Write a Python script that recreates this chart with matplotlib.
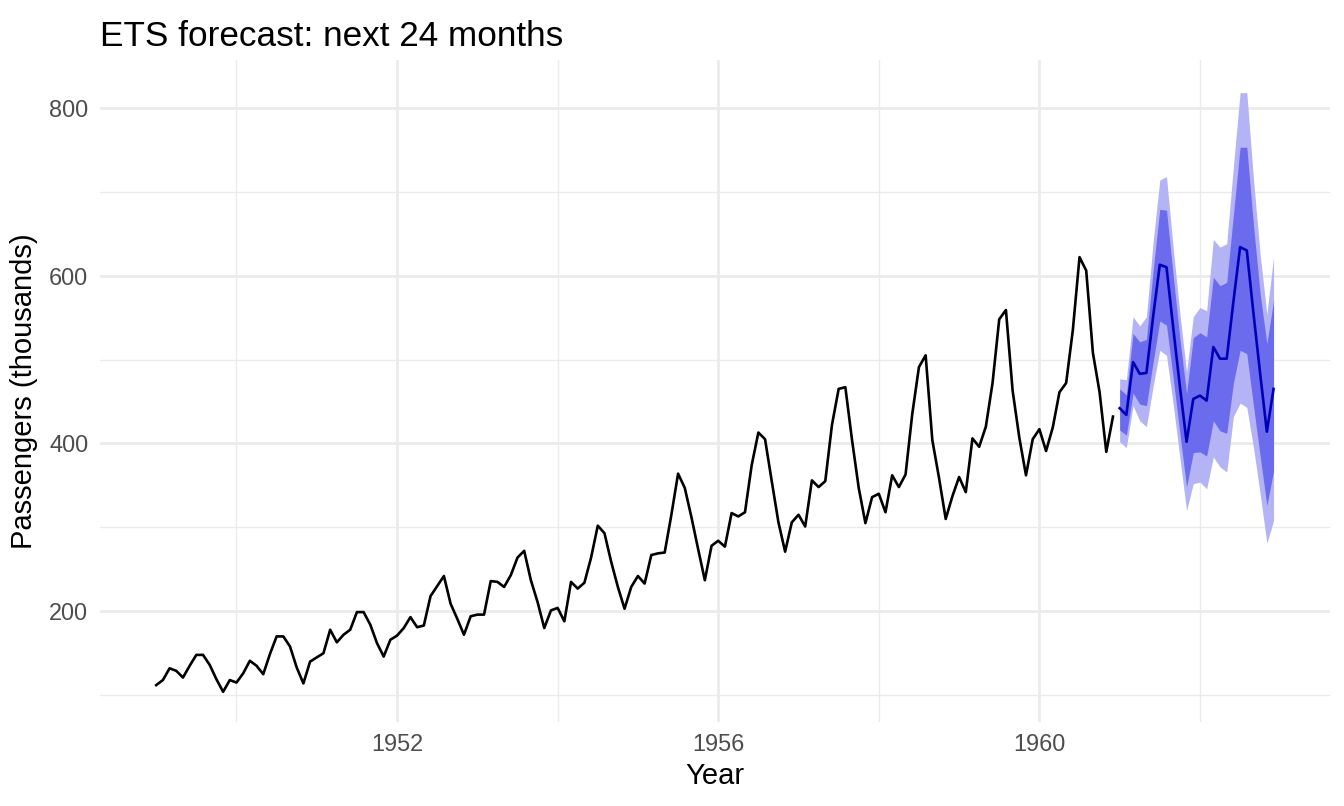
import numpy as np
import matplotlib
matplotlib.use('Agg')
import matplotlib.pyplot as plt
from matplotlib.ticker import MultipleLocator

plt.rcParams['font.family'] = ['Liberation Sans', 'DejaVu Sans']

# monthly airline passengers, 1949-1960 (thousands)
passengers = [
    112, 118, 132, 129, 121, 135, 148, 148, 136, 119, 104, 118,
    115, 126, 141, 135, 125, 149, 170, 170, 158, 133, 114, 140,
    145, 150, 178, 163, 172, 178, 199, 199, 184, 162, 146, 166,
    171, 180, 193, 181, 183, 218, 230, 242, 209, 191, 172, 194,
    196, 196, 236, 235, 229, 243, 264, 272, 237, 211, 180, 201,
    204, 188, 235, 227, 234, 264, 302, 293, 259, 229, 203, 229,
    242, 233, 267, 269, 270, 315, 364, 347, 312, 274, 237, 278,
    284, 277, 317, 313, 318, 374, 413, 405, 355, 306, 271, 306,
    315, 301, 356, 348, 355, 422, 465, 467, 404, 347, 305, 336,
    340, 318, 362, 348, 363, 435, 491, 505, 404, 359, 310, 337,
    360, 342, 406, 396, 420, 472, 548, 559, 463, 407, 362, 405,
    417, 391, 419, 461, 472, 535, 622, 606, 508, 461, 390, 432,
]

# ETS forecast, Jan 1961 - Dec 1962
fc_mean = [442, 434, 497, 483, 484, 551, 613, 610, 538, 468, 402, 453,
           457, 451, 515, 501, 501, 569, 634, 630, 555, 483, 414, 465]
lo80 = [416, 410, 460, 447, 445, 497, 546, 541, 478, 412, 348, 389,
        390, 385, 427, 415, 412, 472, 511, 507, 445, 385, 326, 367]
hi80 = [465, 458, 531, 521, 524, 606, 679, 678, 600, 525, 459, 526,
        532, 527, 598, 588, 592, 672, 753, 753, 660, 578, 519, 570]
lo95 = [402, 395, 445, 427, 420, 468, 511, 505, 447, 383, 320, 352,
        354, 346, 384, 372, 366, 432, 448, 443, 395, 340, 281, 308]
hi95 = [477, 476, 551, 540, 551, 640, 714, 718, 633, 555, 485, 551,
        562, 558, 643, 634, 638, 730, 818, 818, 715, 625, 554, 622]

hist_x = 1949 + np.arange(len(passengers)) / 12
fc_x = 1961 + np.arange(len(fc_mean)) / 12

fig = plt.figure(figsize=(13.44, 8.06), dpi=100)
ax = fig.add_axes([0.0744, 0.1042, 0.9152, 0.8214])

ax.fill_between(fc_x, lo95, hi95, color='#B3B3F5', linewidth=0)
ax.fill_between(fc_x, lo80, hi80, color='#6B6BEE', linewidth=0)
ax.plot(hist_x, passengers, color='black', lw=1.9)
ax.plot(fc_x, fc_mean, color='#0000B8', lw=1.9)

ax.set_xlim(1948.3, 1963.62)
ax.set_ylim(68, 857)

ax.xaxis.set_minor_locator(MultipleLocator(2))
ax.yaxis.set_major_locator(MultipleLocator(200))
ax.yaxis.set_minor_locator(MultipleLocator(100))
ax.set_xticks([1952, 1956, 1960])
ax.set_xticklabels(['1952', '1956', '1960'])
ax.set_yticks([200, 400, 600, 800])

ax.grid(which='major', color='#EBEBEB', lw=2.0)
ax.grid(which='minor', color='#EBEBEB', lw=1.0)
ax.set_axisbelow(True)
for s in ax.spines.values():
    s.set_visible(False)
ax.tick_params(which='both', length=0, labelsize=16.9, labelcolor='#4D4D4D')
ax.tick_params(axis='x', pad=8)
ax.tick_params(axis='y', pad=8.5)

ax.set_xlabel('Year', fontsize=21, labelpad=4)
ax.set_ylabel('Passengers (thousands)', fontsize=21, labelpad=8)
ax.set_title('ETS forecast: next 24 months', fontsize=25.3, loc='left', pad=10)

fig.savefig('out.png', dpi=100, facecolor='white')
